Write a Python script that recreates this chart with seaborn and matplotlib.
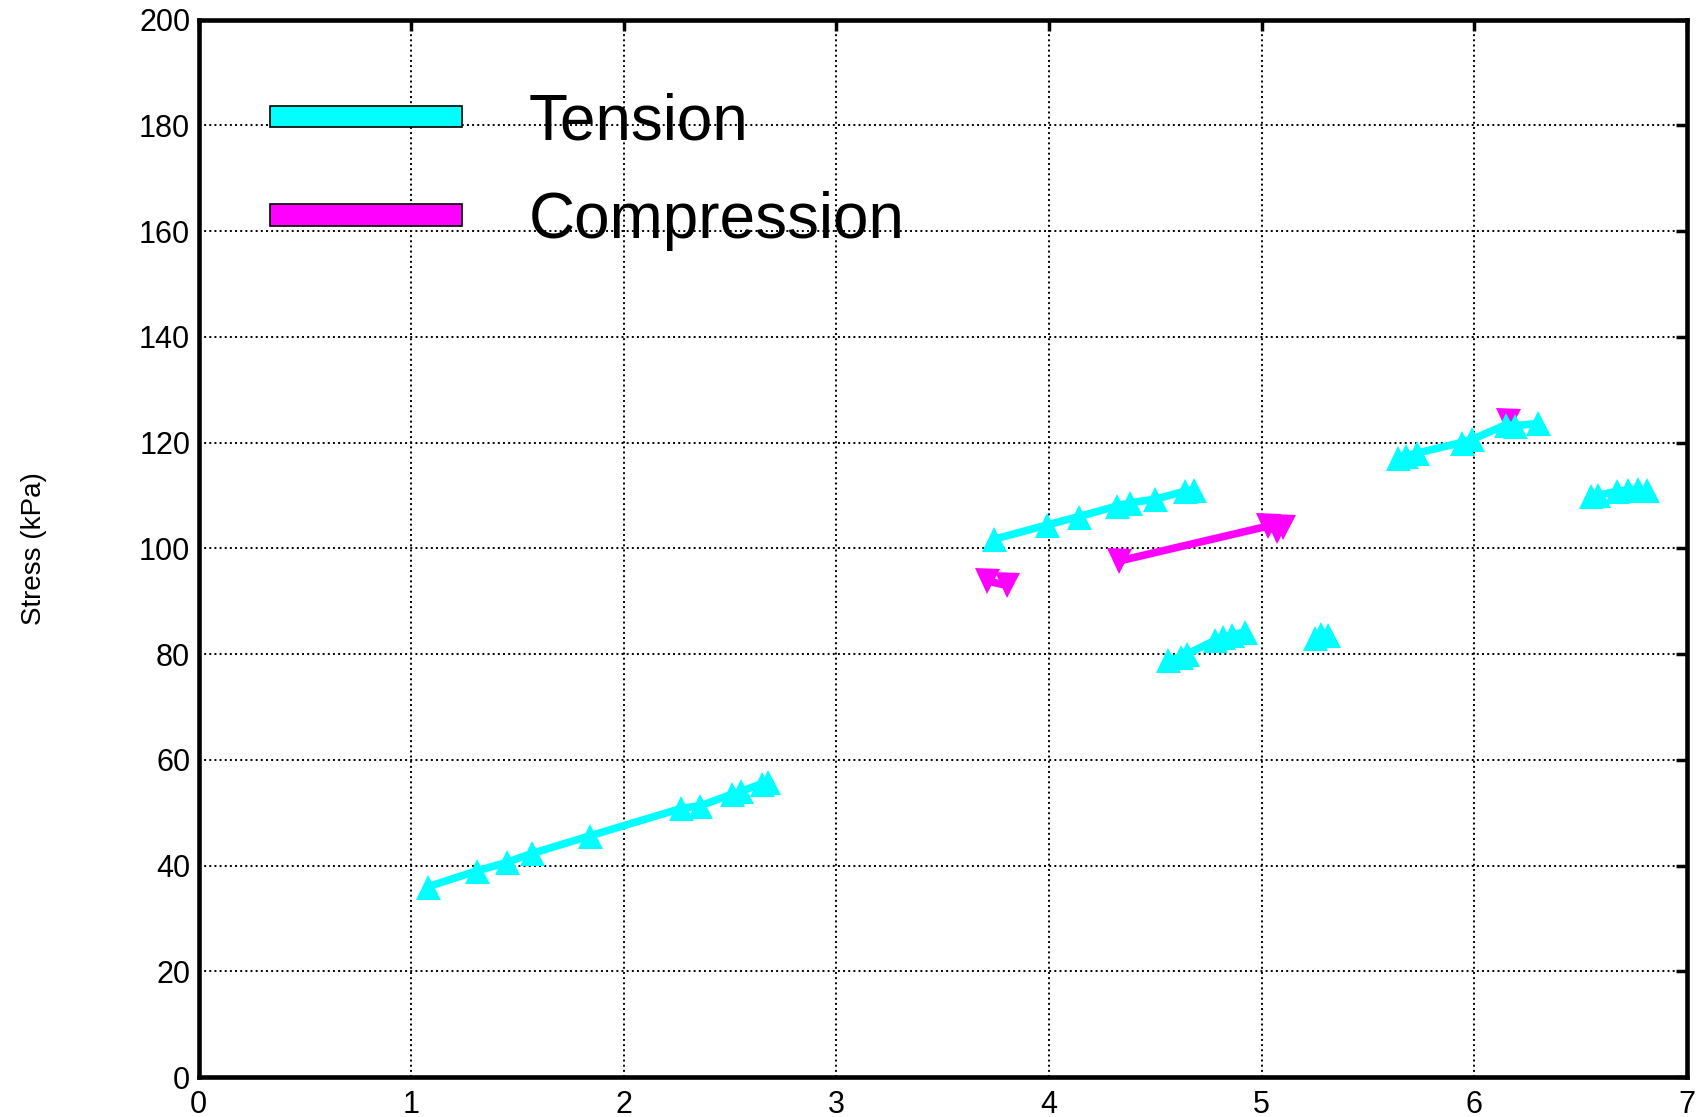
import numpy as np
import pandas as pd
import matplotlib
matplotlib.use("Agg")
import matplotlib.pyplot as plt
import seaborn as sns
from matplotlib.patches import Patch

# ---- data ----
t1_x = [1.08, 1.31, 1.45, 1.57, 1.84, 2.27, 2.36, 2.51, 2.55, 2.65, 2.68]
t1_y = [36.0, 39.0, 40.6, 42.3, 45.6, 50.8, 51.3, 53.5, 54.0, 55.5, 55.8]
t2_x = [3.74, 3.99, 4.14, 4.32, 4.38, 4.50, 4.64, 4.68]
t2_y = [101.7, 104.4, 106.0, 108.0, 108.6, 109.3, 110.8, 111.1]
t3_x = [4.56, 4.62, 4.65, 4.78, 4.82, 4.86, 4.92]
t3_y = [78.8, 79.5, 80.0, 82.6, 83.2, 83.6, 84.2]
t4_x = [5.25, 5.28, 5.31]
t4_y = [83.0, 83.8, 83.6]
t5_x = [5.64, 5.68, 5.73, 5.94, 5.99, 6.15, 6.19, 6.30]
t5_y = [117.0, 117.5, 118.0, 120.0, 120.6, 123.4, 123.2, 123.6]
t6_x = [6.55, 6.58, 6.67, 6.72, 6.77, 6.81]
t6_y = [109.8, 110.0, 110.8, 111.0, 111.2, 111.0]
c1_x = [3.71, 3.80]
c1_y = [93.8, 93.0]
c2_x = [4.33, 5.03, 5.07, 5.10]
c2_y = [97.6, 104.2, 103.2, 104.0]
c3_x = [6.16]
c3_y = [124.0]

series = [
    ("T1", "Tension", t1_x, t1_y),
    ("T2", "Tension", t2_x, t2_y),
    ("T3", "Tension", t3_x, t3_y),
    ("T4", "Tension", t4_x, t4_y),
    ("C3", "Compression", c3_x, c3_y),
    ("T5", "Tension", t5_x, t5_y),
    ("T6", "Tension", t6_x, t6_y),
    ("C1", "Compression", c1_x, c1_y),
    ("C2", "Compression", c2_x, c2_y),
]
rows = []
for seg, kind, xs, ys in series:
    for x, y in zip(xs, ys):
        rows.append({"seg": seg, "kind": kind, "x": x, "y": y})
df = pd.DataFrame(rows)

labels = ["Tension", "Compression"]
colors = {"Tension": "#00FFFF", "Compression": "#FF00FF"}
markers = {"Tension": "^", "Compression": "v"}

sns.set_style("white")
plt.rcParams["font.family"] = ["Liberation Sans", "DejaVu Sans"]
plt.rcParams["text.color"] = "black"
plt.rcParams["axes.labelcolor"] = "black"

fig = plt.figure(figsize=(17.01, 11.17), dpi=100)
ax = fig.add_axes([0.1167, 0.0358, 0.8751, 0.9467])

for seg, kind, xs, ys in series:
    sub = df[df["seg"] == seg]
    sns.lineplot(data=sub, x="x", y="y", ax=ax, estimator=None, sort=False,
                 color=colors[kind], marker=markers[kind], markersize=18,
                 markeredgewidth=0, linewidth=5.5, legend=False, zorder=3)

ax.set_xlim(0, 7)
ax.set_ylim(0, 200)
ax.set_xticks(range(0, 8))
ax.set_yticks(range(0, 201, 20))
ax.grid(True, linestyle=":", color="black", linewidth=1.4)
ax.set_axisbelow(True)
for s in ax.spines.values():
    s.set_linewidth(3.3)
    s.set_color("black")
    s.set_visible(True)
ax.tick_params(direction="in", length=8, width=2.5, top=True, right=True,
               labelsize=22, pad=6, colors="black")
ax.tick_params(axis="x", pad=9)
ax.set_xlabel("")
ax.set_ylabel("Stress (kPa)", fontsize=20, labelpad=66, color="black")

handles = [Patch(facecolor=colors[k], edgecolor="black", linewidth=1.2) for k in labels]
leg = ax.legend(handles, labels, loc="upper left", bbox_to_anchor=(0.031, 0.955),
                frameon=False, fontsize=46, handlelength=3.0, handleheight=0.14,
                handletextpad=1.05, labelspacing=0.6, borderaxespad=0)
for t in leg.get_texts():
    t.set_color("black")

fig.savefig("out.png", dpi=100)
